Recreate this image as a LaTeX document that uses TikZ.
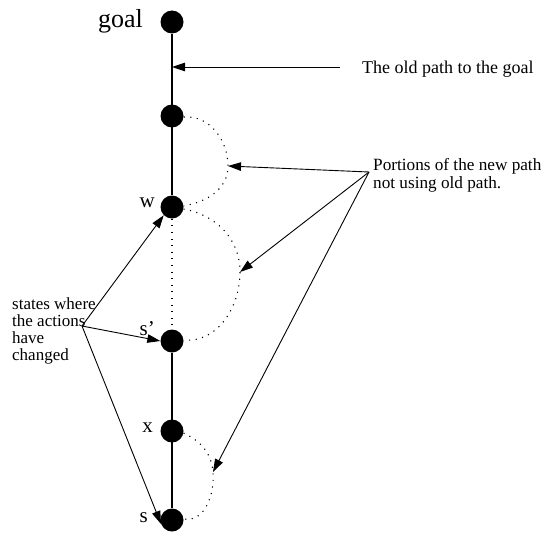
\documentclass[tikz,border=0pt]{standalone}
\usepackage{fontspec}
\setmainfont{Liberation Serif}
\usetikzlibrary{arrows.meta}
\begin{document}
\begin{tikzpicture}[x=1pt,y=-1pt,
  state/.style={circle,fill=black,inner sep=0pt,minimum size=23pt},
  lbl/.style={font=\fontsize{21}{21}\selectfont,inner sep=0pt,anchor=base east},
  txt/.style={inner sep=0pt,align=left,anchor=base west},
  ptr/.style={line width=0.9pt,-{Triangle[length=13pt,width=8.5pt]}},
  oldpath/.style={line width=2pt},
  newpath/.style={line width=1.1pt,dash pattern=on 1.1pt off 5.5pt}]
\useasboundingbox (0,0) rectangle (545,535);
\node[state] (g) at (172,22) {};
\node[state] (n2) at (172,116) {};
\node[state] (w) at (172,207) {};
\node[state] (sp) at (172,341) {};
\node[state] (x) at (172,431) {};
\node[state] (s) at (172,520) {};
\node[lbl,font=\fontsize{26}{26}\selectfont] (gl) at (143,28) {goal};
\node[lbl] (wl) at (155,207) {w};
\node[lbl] (spl) at (155,335) {s’};
\node[lbl] (xl) at (153,432) {x};
\node[lbl] (sl) at (148,522) {s};
% old path
\draw[oldpath] (g) -- (w);
\draw[oldpath] (sp) -- (s);
\draw[newpath] (w.south) -- (sp.north);
% new path portions
\coordinate (a1) at (228,166);
\coordinate (a2) at (240,272);
\coordinate (a3) at (213,472);
\draw[newpath] (n2.-5) to[out=5,in=90] (a1) to[out=-90,in=10] (w.5);
\draw[newpath] (w.-10) to[out=-10,in=90] (a2) to[out=-90,in=-5] (sp.5);
\draw[newpath] (x.-10) to[out=-25,in=95] (a3) to[out=-85,in=-10] (s.5);
% texts
\node[txt,font=\fontsize{18}{18}\selectfont] (old) at (362,73) {The old path to the goal};
\node[txt,font=\fontsize{17.2}{18}\selectfont] (por) at (373,188) {Portions of the new path\\not using old path.};
\node[txt,font=\fontsize{17}{17}\selectfont] (st) at (12,360) {states where\\the actions\\have\\changed};
\coordinate (oldstart) at (340,67);
\coordinate (oldend) at (172,67);
\draw[ptr] (oldstart) -- (oldend);
\coordinate (pc) at (369,172);
\draw[ptr] (pc) -- (a1);
\draw[ptr] (pc) -- (a2);
\draw[ptr] (pc) -- (a3);
\coordinate (sc) at (82,326);
\draw[ptr] (sc) -- (w.-135);
\draw[ptr] (sc) -- (sp.west);
\draw[ptr] (sc) -- (s.-160);
\end{tikzpicture}
\end{document}
